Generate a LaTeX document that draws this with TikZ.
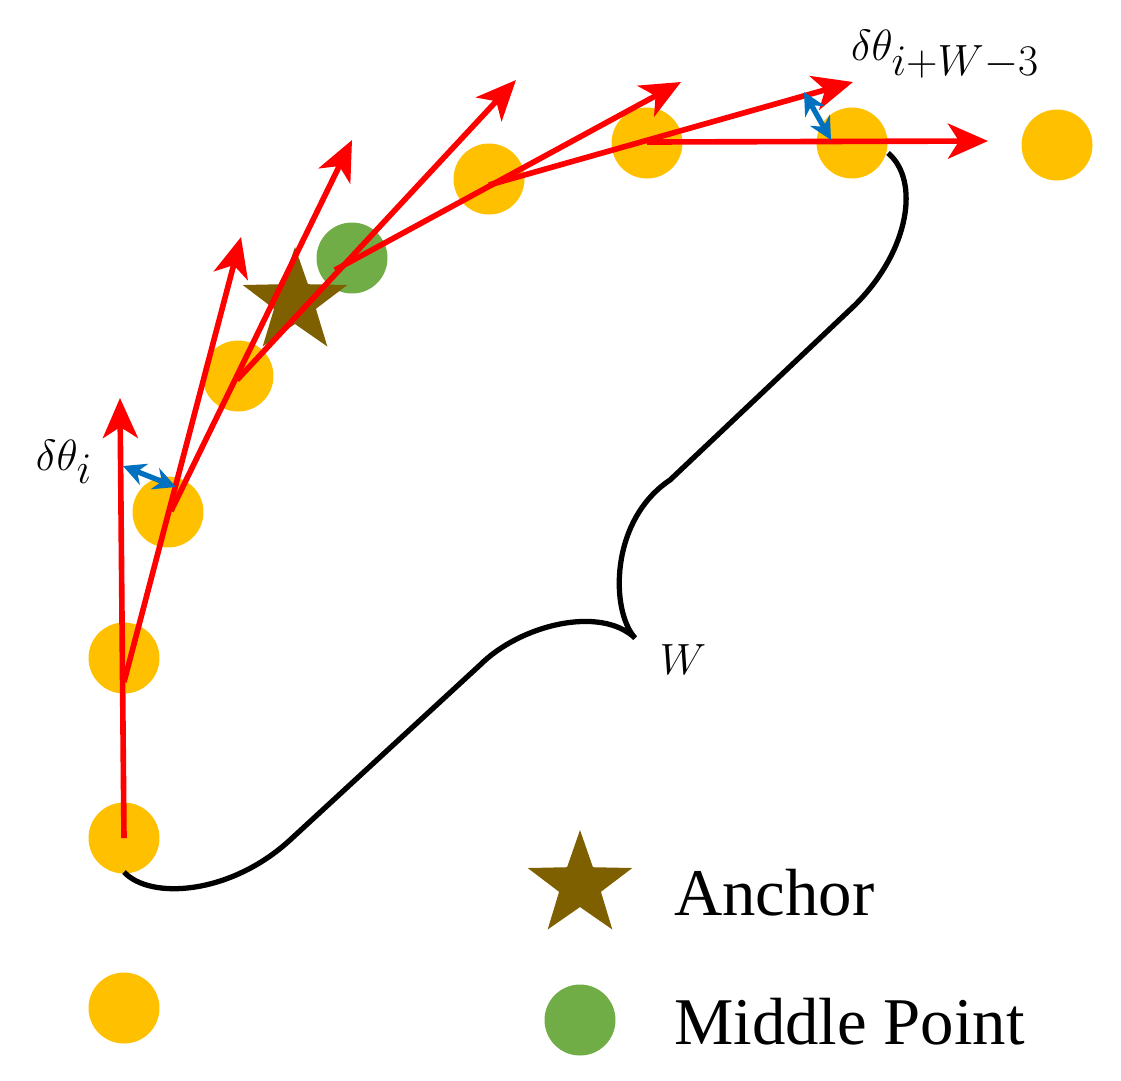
\documentclass[tikz,border=0pt]{standalone}
\usepackage{fontspec}
\setmainfont{Liberation Serif}
\usetikzlibrary{shapes.geometric,arrows.meta}
\definecolor{ye}{HTML}{FFC000}
\definecolor{gr}{HTML}{70AD47}
\definecolor{st}{HTML}{7F6000}
\definecolor{bl}{HTML}{0070C0}
\begin{document}
\begin{tikzpicture}[x=0.02cm,y=-0.02cm,
  pt/.style={circle,fill=ye,minimum size=1.42cm,inner sep=0pt},
  mid/.style={circle,fill=gr,minimum size=1.42cm,inner sep=0pt},
  anc/.style={star,star points=5,star point ratio=2.5,fill=st,minimum size=2.2cm,inner sep=0pt},
  vec/.style={red,line width=3.2pt,-{Stealth[length=0.8cm,width=0.7cm,inset=0.22cm]}},
  ang/.style={bl,line width=3pt,{Stealth[length=0.45cm,width=0.45cm]}-{Stealth[length=0.45cm,width=0.45cm]}},
  lbl/.style={font=\fontsize{38}{44}\selectfont},
  mlb/.style={font=\fontsize{46}{52}\selectfont}]
\useasboundingbox (0,0) rectangle (1121,1080);
\node[pt] (p0) at (124,1008) {};
\node[pt] (p1) at (124,838) {};
\node[pt] (p2) at (124,658) {};
\node[pt] (p3) at (168,512) {};
\node[pt] (p4) at (238,376) {};
\node[mid] (m) at (352,258) {};
\node[pt] (p5) at (489,179) {};
\node[pt] (p6) at (647,143) {};
\node[pt] (p7) at (852,143) {};
\node[pt] (p8) at (1057,145) {};
\node[anc] (a) at (295,302) {};
\coordinate (s1) at (124,838); \coordinate (t1) at (120,398);
\coordinate (s2) at (124,682); \coordinate (t2) at (241,237);
\coordinate (s3) at (171,511); \coordinate (t3) at (352,140);
\coordinate (s4) at (237,380); \coordinate (t4) at (516,80);
\coordinate (s5) at (335,270); \coordinate (t5) at (681,82);
\coordinate (s6) at (489,185); \coordinate (t6) at (853,82);
\coordinate (s7) at (647,142); \coordinate (t7) at (988,141);
\draw[vec] (s1) -- (t1);
\draw[vec] (s2) -- (t2);
\draw[vec] (s3) -- (t3);
\draw[vec] (s4) -- (t4);
\draw[vec] (s5) -- (t5);
\draw[vec] (s6) -- (t6);
\draw[vec] (s7) -- (t7);
\coordinate (b1) at (123,466); \coordinate (b2) at (176,487);
\coordinate (b3) at (804,92); \coordinate (b4) at (831,140);
\draw[ang] (b1) -- (b2);
\draw[ang] (b3) -- (b4);
\coordinate (c0) at (124,872); \coordinate (c1) at (888,153);
\coordinate (cusp) at (635,638);
\draw[line width=3pt] (c0) .. controls (150,900) and (230,895) .. (290,840)
  -- (480,665) .. controls (520,625) and (600,605) .. (cusp)
  .. controls (610,610) and (610,520) .. (670,480)
  -- (855,305) .. controls (910,250) and (920,180) .. (c1);
\node[mlb] (l1) at (64,462) {$\delta\theta_i$};
\node[mlb] (l2) at (945,55) {$\delta\theta_{i+W-3}$};
\node[mlb] (lw) at (683,660) {$W$};
\node[anc] (la) at (580,885) {};
\node[lbl,anchor=west] (ta) at (668,893) {Anchor};
\node[mid] (lm) at (580,1020) {};
\node[lbl,anchor=west] (tm) at (668,1022) {Middle Point};
\end{tikzpicture}
\end{document}
